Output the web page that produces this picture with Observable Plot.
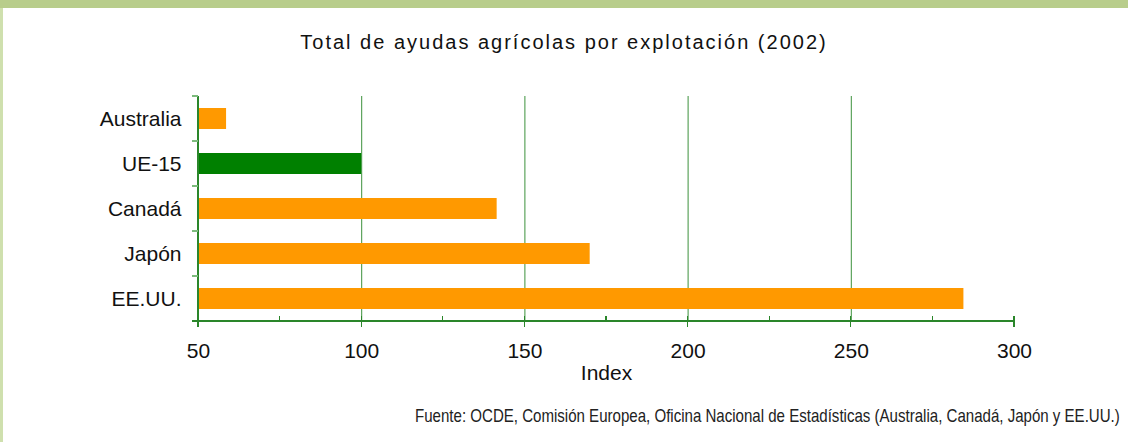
<!DOCTYPE html>
<html>
<head>
<meta charset="utf-8">
<script src="https://cdn.jsdelivr.net/npm/d3@7"></script>
<script src="https://cdn.jsdelivr.net/npm/@observablehq/plot@0.6"></script>
<style>
  html, body { margin: 0; padding: 0; background: #fff; }
  #wrap { position: relative; width: 1128px; height: 442px; overflow: hidden; background: #fff; }
  #topband { position: absolute; left: 0; top: 0; width: 1128px; height: 8px; background: #b8cd8b; }
  #leftband { position: absolute; left: 0; top: 8px; width: 3px; height: 434px; background: #cfe0ae; }
  #title { position: absolute; left: 0; top: 31px; width: 1128px; text-align: center;
           font-family: "Liberation Sans", Arial, sans-serif; font-size: 20px; letter-spacing: 2px; color: #111; }
  #caption { position: absolute; right: 8px; top: 405px; white-space: nowrap;
             font-family: "Liberation Sans Narrow", "Arial Narrow", "Liberation Sans", sans-serif; font-size: 18.5px; color: #222;
             transform: scaleX(0.814); transform-origin: right center; }
  #chart { position: absolute; left: 0; top: 0; }
</style>
</head>
<body>
<div id="wrap">
  <div id="topband"></div>
  <div id="leftband"></div>
  <div id="chart"></div>
  <div id="title">Total de ayudas agrícolas por explotación (2002)</div>
  <div id="caption">Fuente: OCDE, Comisión Europea, Oficina Nacional de Estadísticas (Australia, Canadá, Japón y EE.UU.)</div>
</div>
<script>
const categories = ["Australia", "UE-15", "Canadá", "Japón", "EE.UU."];
const values = [58.6, 100, 141.5, 170, 284.5];
const barColors = ["#ff9900", "#008000", "#ff9900", "#ff9900", "#ff9900"];
const xMin = 50, xMax = 300;
const majorTicks = [50, 100, 150, 200, 250, 300];
const minorTicks = [75, 125, 175, 225, 275];
const gridTicks = [100, 150, 200, 250];
const axisLabel = "Index";

const data = categories.map((c, i) => ({name: c, value: values[i], color: barColors[i]}));

const axisGreen = "#2a862a";
const gridGreen = "#3c913c";

const plot = Plot.plot({
  width: 1128,
  height: 442,
  marginLeft: 198,
  marginRight: 114,
  marginTop: 96,
  marginBottom: 121,
  style: {background: "transparent", fontFamily: "'Liberation Sans', Arial, sans-serif", fontSize: "21px", color: "#111"},
  x: {domain: [xMin, xMax]},
  y: {domain: categories, type: "band", padding: 0},
  marks: [
    Plot.ruleX(gridTicks, {stroke: gridGreen, strokeWidth: 1, strokeOpacity: 1}),
    Plot.barX(data, {y: "name", x1: xMin, x2: "value", fill: "color", insetTop: 12, insetBottom: 12}),
    Plot.axisX({ticks: majorTicks, tickSize: 0, tickPadding: 22, label: null, fontSize: 21}),
    Plot.axisY({tickSize: 0, tickPadding: 17, label: null, fontSize: 21}),
    Plot.text([axisLabel], {frameAnchor: "bottom", dy: 58, fontSize: 21, fill: "#111"})
  ]
});

document.getElementById("chart").appendChild(plot);

// axis lines and tick marks drawn from the plot's own scales
const sx = plot.scale("x");
const sy = plot.scale("y");
const y0 = sy.range[0], y1 = sy.range[1];
const bw = sy.bandwidth;
const xA = sx.apply(xMin);
const g = d3.select(plot).append("g").attr("shape-rendering", "crispEdges");
// y axis line
g.append("line").attr("x1", xA).attr("x2", xA).attr("y1", y0).attr("y2", y1).attr("stroke", axisGreen).attr("stroke-width", 1.5);
// y boundary ticks
const bounds = categories.map(c => sy.apply(c)).concat([sy.apply(categories[categories.length - 1]) + bw]);
g.selectAll(".yt").data(bounds).join("line")
  .attr("x1", xA - 6).attr("x2", xA).attr("y1", d => d).attr("y2", d => d)
  .attr("stroke", "#7dbb7d").attr("stroke-width", 1.5);
// x axis line
g.append("line").attr("x1", xA - 6).attr("x2", sx.apply(xMax)).attr("y1", y1).attr("y2", y1).attr("stroke", axisGreen).attr("stroke-width", 1.5);
// major ticks crossing
g.selectAll(".xt").data(majorTicks).join("line")
  .attr("x1", d => sx.apply(d)).attr("x2", d => sx.apply(d))
  .attr("y1", y1 - 5).attr("y2", y1 + 6)
  .attr("stroke", axisGreen).attr("stroke-width", 1.2);
// minor ticks inward
g.selectAll(".xm").data(minorTicks).join("line")
  .attr("x1", d => sx.apply(d)).attr("x2", d => sx.apply(d))
  .attr("y1", y1 - 5).attr("y2", y1)
  .attr("stroke", axisGreen).attr("stroke-width", 1.2);
</script>
</body>
</html>
